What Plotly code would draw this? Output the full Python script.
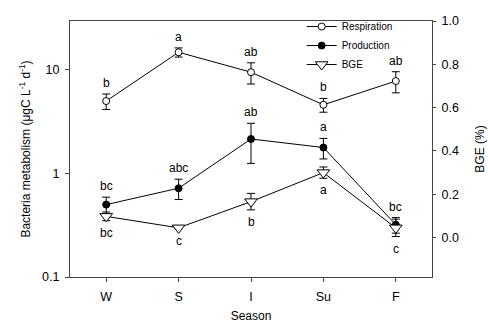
import math
import plotly.graph_objects as go

# Seasonal bacterial metabolism
seasons = ["W", "S", "I", "Su", "F"]
respiration = [5.0, 14.8, 9.5, 4.6, 7.8]
respiration_err = [0.85, 1.5, 2.2, 0.7, 1.8]
production = [0.50, 0.72, 2.15, 1.78, 0.32]
production_err = [0.09, 0.16, 0.9, 0.4, 0.055]
bge = [0.098, 0.045, 0.166, 0.30, 0.045]
bge_err = [0.02, 0.005, 0.038, 0.026, 0.04]

resp_letters = ["b", "a", "ab", "b", "ab"]
prod_letters = ["bc", "abc", "ab", "a", "bc"]
bge_letters = ["bc", "c", "b", "a", "c"]

FONT = "Liberation Sans, Arial, sans-serif"
AXIS_COLOR = "#444444"

x_idx = list(range(len(seasons)))

fig = go.Figure()

err_style = dict(type="data", thickness=1, width=4, color="black")

fig.add_trace(go.Scatter(
    x=x_idx, y=respiration, name="Respiration", mode="lines+markers",
    line=dict(color="black", width=1),
    marker=dict(symbol="circle", size=7, color="white",
                line=dict(color="black", width=1)),
    error_y=dict(array=respiration_err, **err_style),
))
fig.add_trace(go.Scatter(
    x=x_idx, y=production, name="Production", mode="lines+markers",
    line=dict(color="black", width=1),
    marker=dict(symbol="circle", size=7, color="black",
                line=dict(color="black", width=1)),
    error_y=dict(array=production_err, **err_style),
))
fig.add_trace(go.Scatter(
    x=x_idx, y=bge, name="BGE", mode="lines+markers", yaxis="y2",
    line=dict(color="black", width=1),
    marker=dict(symbol="triangle-down", size=11, color="white",
                line=dict(color="black", width=1)),
    error_y=dict(array=bge_err, **err_style),
))

annotations = []
for i in x_idx:
    annotations.append(dict(
        x=i, y=math.log10(respiration[i] + respiration_err[i]), xref="x", yref="y",
        text=resp_letters[i], showarrow=False, yshift=11,
        font=dict(family=FONT, size=12, color="black")))
    annotations.append(dict(
        x=i, y=math.log10(production[i] + production_err[i]), xref="x", yref="y",
        text=prod_letters[i], showarrow=False, yshift=11,
        font=dict(family=FONT, size=12, color="black")))
    annotations.append(dict(
        x=i, y=bge[i] - bge_err[i], xref="x", yref="y2",
        text=bge_letters[i], showarrow=False, yshift=-12,
        font=dict(family=FONT, size=12, color="black")))

fig.update_layout(
    width=488, height=329,
    margin=dict(l=70, r=56, t=15, b=52),
    paper_bgcolor="white", plot_bgcolor="white",
    font=dict(family=FONT, size=12, color="black"),
    showlegend=True,
    legend=dict(x=0.64, y=1.035, xanchor="left", yanchor="top",
                bgcolor="rgba(0,0,0,0)", font=dict(size=10),
                tracegroupgap=0, itemwidth=30),
    xaxis=dict(
        range=[-0.5, 4.5], tickmode="array", tickvals=x_idx, ticktext=seasons,
        showline=True, linecolor=AXIS_COLOR, linewidth=1, mirror=True,
        ticks="outside", ticklen=4, tickcolor=AXIS_COLOR,
        showgrid=False, zeroline=False, ticklabelstandoff=4, automargin=False,
        tickfont=dict(size=12.5),
        title=dict(text="Season", font=dict(size=12), standoff=8),
    ),
    yaxis=dict(
        type="log", range=[-1, 1.472],
        tickmode="array", tickvals=[0.1, 1, 10], ticktext=["0.1", "1", "10"],
        showline=True, linecolor=AXIS_COLOR, linewidth=1,
        ticks="outside", ticklen=4, tickcolor=AXIS_COLOR,
        showgrid=False, zeroline=False, ticklabelstandoff=3, automargin=False,
        tickfont=dict(size=12.5),
        title=dict(text="Bacteria metabolism (μgC L<sup>-1</sup> d<sup>-1</sup>)",
                   font=dict(size=12), standoff=8),
    ),
    yaxis2=dict(
        overlaying="y", side="right", range=[-0.182, 1.0],
        tickmode="array", tickvals=[0, 0.2, 0.4, 0.6, 0.8, 1.0],
        ticktext=["0.0", "0.2", "0.4", "0.6", "0.8", "1.0"],
        showline=True, linecolor=AXIS_COLOR, linewidth=1,
        ticks="outside", ticklen=3, tickcolor=AXIS_COLOR,
        showgrid=False, zeroline=False, ticklabelstandoff=3, automargin=False,
        tickfont=dict(size=12.5),
        title=dict(text="BGE (%)", font=dict(size=12), standoff=17),
    ),
    annotations=annotations,
)

fig.write_html("out.html")
